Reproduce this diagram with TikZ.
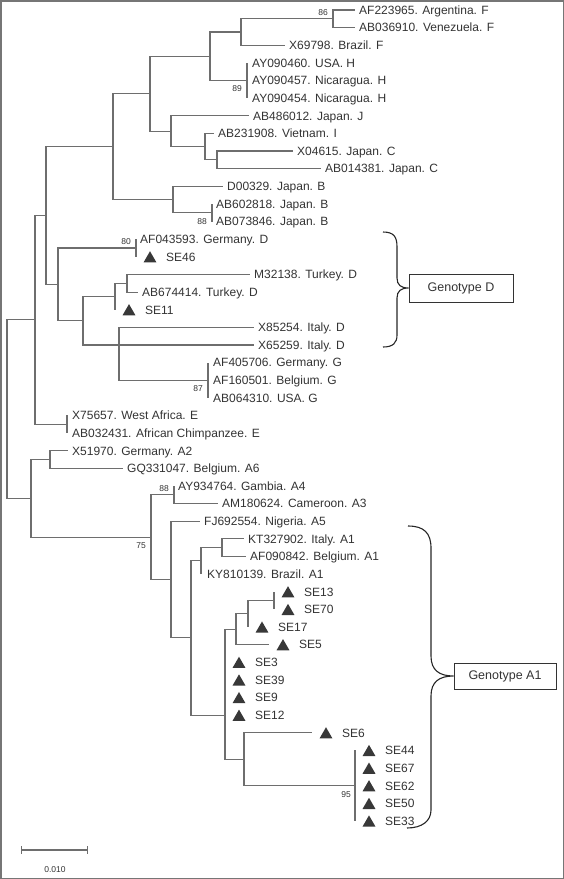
\documentclass[tikz,border=0pt]{standalone}
\usepackage{fontspec}
\setmainfont{Liberation Sans}
\usepackage{tikz}
\usetikzlibrary{positioning, shapes.geometric}
\usepackage{xcolor}

\definecolor{branchgray}{HTML}{6E6E6E}
\definecolor{labeltext}{HTML}{333333}
\definecolor{marker}{HTML}{383838}
\definecolor{framegray}{HTML}{767676}

\tikzset{
    branch/.style={draw=branchgray, line width=1.1pt},
    leaf/.style={text=labeltext, inner sep=0pt, text height=8.6pt, text depth=0pt,
        font=\fontsize{12}{14}\selectfont},
    boot/.style={text=labeltext, inner sep=0pt, text height=6.1pt, text depth=0pt,
        font=\fontsize{8.5}{10}\selectfont},
    tri/.style={regular polygon, regular polygon sides=3, fill=marker, draw=none,
        inner sep=0pt, minimum size=15pt, xshift=14pt, yshift=-1.9pt},
    genobox/.style={draw=labeltext, line width=0.9pt, text=labeltext, inner sep=0pt,
        font=\fontsize{12.5}{15}\selectfont},
    brace/.style={draw=black!85, line width=1.1pt}
}

\begin{document}
\begin{tikzpicture}[x=1pt, y=-1pt]
    \useasboundingbox (0,0) rectangle (564,879);
    \draw[draw=framegray, line width=1.5pt] (0.75,0.75) rectangle (563.25,878.25);

    \begin{scope}[x=1pt, y=-17.63pt, yshift=-10pt]
    % Add the branch points
        \coordinate (root) at (7,22.64);
        \coordinate (nY) at (35,17.58);
        \coordinate (nX) at (46,11.66);
        \coordinate (nFB) at (113,7.75);
        \coordinate (nFJ) at (150,4.75);
        \coordinate (nFH) at (210,2.625);
        \coordinate (nF) at (241,1.25);
        \coordinate (n1) at (333,0.5);
        \coordinate (nH) at (247,4);
        \coordinate (nJ) at (171,6.875);
        \coordinate (nIC) at (205,7.75);
        \coordinate (nC) at (217,8.5);
        \coordinate (nB) at (173,10.75);
        \coordinate (nB2) at (212,11.5);
        \coordinate (nDG) at (58,15.56);
        \coordinate (nD1) at (136,13.5);
        \coordinate (nD4) at (83,17.625);
        \coordinate (nD2) at (115,16.25);
        \coordinate (nT) at (127,15.5);
        \coordinate (nD3) at (119,19);
        \coordinate (nD3x) at (119,20);
        \coordinate (nG) at (208,21);
        \coordinate (nE) at (67,23.5);
        \coordinate (nA6) at (31,27.7);
        \coordinate (nA2) at (50,25.5);
        \coordinate (nA3) at (151,29.9);
        \coordinate (nA4) at (174,27.5);
        \coordinate (nA5) at (171,32.3);
        \coordinate (nA1c) at (191,35.6);
        \coordinate (nA1b) at (201,31.25);
        \coordinate (nA1a) at (222,30.5);
        \coordinate (nS4) at (225,40);
        \coordinate (nS3) at (236,35.125);
        \coordinate (nS2) at (248,34.25);
        \coordinate (nS1) at (274,33.5);
        \coordinate (nS6) at (244,42.5);
        \coordinate (nS7) at (355,44);

    % Add the tips
        \coordinate (t0) at (355,0);
        \coordinate (t1) at (355,1);
        \coordinate (t2) at (285,2);
        \coordinate (t3) at (247,3);
        \coordinate (t4) at (247,4);
        \coordinate (t5) at (247,5);
        \coordinate (t6) at (249,6);
        \coordinate (t7) at (214,7);
        \coordinate (t8) at (293,8);
        \coordinate (t9) at (321,9);
        \coordinate (t10) at (223,10);
        \coordinate (t11) at (212,11);
        \coordinate (t12) at (212,12);
        \coordinate (t13) at (136,13);
        \coordinate (t14) at (136,14);
        \coordinate (t15) at (250,15);
        \coordinate (t16) at (138,16);
        \coordinate (t17) at (115,17);
        \coordinate (t18) at (254,18);
        \coordinate (t19) at (254,19);
        \coordinate (t20) at (208,20);
        \coordinate (t21) at (208,21);
        \coordinate (t22) at (208,22);
        \coordinate (t23) at (67,23);
        \coordinate (t24) at (67,24);
        \coordinate (t25) at (68,25);
        \coordinate (t26) at (123,26);
        \coordinate (t27) at (174,27);
        \coordinate (t28) at (218,28);
        \coordinate (t29) at (200,29);
        \coordinate (t30) at (244,30);
        \coordinate (t31) at (246,31);
        \coordinate (t32) at (201,32);
        \coordinate (t33) at (274,33);
        \coordinate (t34) at (274,34);
        \coordinate (t35) at (248,35);
        \coordinate (t36) at (269,36);
        \coordinate (t37) at (225,37);
        \coordinate (t38) at (225,38);
        \coordinate (t39) at (225,39);
        \coordinate (t40) at (225,40);
        \coordinate (t41) at (312,41);
        \coordinate (t42) at (355,42);
        \coordinate (t43) at (355,43);
        \coordinate (t44) at (355,44);
        \coordinate (t45) at (355,45);
        \coordinate (t46) at (355,46);

    % Draw the branches
        \draw[branch]
            (root) |- (nY)    (root) |- (nA6)
            (nY) |- (nX)      (nY) |- (nE)
            (nX) |- (nFB)     (nX) |- (nDG)
            (nFB) |- (nFJ)    (nFB) |- (nB)
            (nFJ) |- (nFH)    (nFJ) |- (nJ)
            (nFH) |- (nF)     (nFH) |- (nH)
            (nF) |- (n1)      (nF) |- (t2)
            (n1) |- (t0)      (n1) |- (t1)
            (nH) |- (t3)      (nH) |- (t5)
            (nJ) |- (t6)      (nJ) |- (nIC)
            (nIC) |- (t7)     (nIC) |- (nC)
            (nC) |- (t8)      (nC) |- (t9)
            (nB) |- (t10)     (nB) |- (nB2)
            (nB2) |- (t11)    (nB2) |- (t12)
            (nDG) |- (nD1)    (nDG) |- (nD4)
            (nD1) |- (t13)    (nD1) |- (t14)
            (nD4) |- (nD2)    (nD4) |- (nD3)
            (nD2) |- (nT)     (nD2) |- (t17)
            (nT) |- (t15)     (nT) |- (t16)
            (nD3) |- (t18)    (nD3) |- (t19)    (nD3) |- (nG)
            (nG) |- (t20)     (nG) |- (t22)
            (nE) |- (t23)     (nE) |- (t24)
            (nA6) |- (nA2)    (nA6) |- (nA3)
            (nA2) |- (t25)    (nA2) |- (t26)
            (nA3) |- (nA4)    (nA3) |- (nA5)
            (nA4) |- (t27)    (nA4) |- (t28)
            (nA5) |- (t29)    (nA5) |- (nA1c)
            (nA1c) |- (nA1b)  (nA1c) |- (nS4)
            (nA1b) |- (nA1a)  (nA1b) |- (t32)
            (nA1a) |- (t30)   (nA1a) |- (t31)
            (nS4) |- (nS3)    (nS4) |- (t37)    (nS4) |- (nS6)
            (nS3) |- (nS2)    (nS3) |- (t36)
            (nS2) |- (nS1)    (nS2) |- (t35)
            (nS1) |- (t33)    (nS1) |- (t34)
            (nS6) |- (t41)    (nS6) |- (nS7)
            (nS7) |- (t42)    (nS7) |- (t46);
        \draw[branch, line width=2pt] (nD3) -- (nD3x);
        \draw[branch, line width=2pt] (t37) -- (t40);

    % Add the reference labels
        \node[leaf, right=4pt of t0] (l0) {AF223965. Argentina. F};
        \node[leaf, right=4pt of t1] (l1) {AB036910. Venezuela. F};
        \node[leaf, right=4pt of t2] (l2) {X69798. Brazil. F};
        \node[leaf, right=5pt of t3] (l3) {AY090460. USA. H};
        \node[leaf, right=5pt of t4] (l4) {AY090457. Nicaragua. H};
        \node[leaf, right=5pt of t5] (l5) {AY090454. Nicaragua. H};
        \node[leaf, right=4pt of t6] (l6) {AB486012. Japan. J};
        \node[leaf, right=4pt of t7] (l7) {AB231908. Vietnam. I};
        \node[leaf, right=4pt of t8] (l8) {X04615. Japan. C};
        \node[leaf, right=4pt of t9] (l9) {AB014381. Japan. C};
        \node[leaf, right=4pt of t10] (l10) {D00329. Japan. B};
        \node[leaf, right=4pt of t11] (l11) {AB602818. Japan. B};
        \node[leaf, right=4pt of t12] (l12) {AB073846. Japan. B};
        \node[leaf, right=4pt of t13] (l13) {AF043593. Germany. D};
        \node[leaf, right=4pt of t15] (l15) {M32138. Turkey. D};
        \node[leaf, right=4pt of t16] (l16) {AB674414. Turkey. D};
        \node[leaf, right=4pt of t18] (l18) {X85254. Italy. D};
        \node[leaf, right=4pt of t19] (l19) {X65259. Italy. D};
        \node[leaf, right=5pt of t20] (l20) {AF405706. Germany. G};
        \node[leaf, right=5pt of t21] (l21) {AF160501. Belgium. G};
        \node[leaf, right=5pt of t22] (l22) {AB064310. USA. G};
        \node[leaf, right=5pt of t23] (l23) {X75657. West Africa. E};
        \node[leaf, right=5pt of t24] (l24) {AB032431. African Chimpanzee. E};
        \node[leaf, right=4pt of t25] (l25) {X51970. Germany. A2};
        \node[leaf, right=4pt of t26] (l26) {GQ331047. Belgium. A6};
        \node[leaf, right=4pt of t27] (l27) {AY934764. Gambia. A4};
        \node[leaf, right=4pt of t28] (l28) {AM180624. Cameroon. A3};
        \node[leaf, right=4pt of t29] (l29) {FJ692554. Nigeria. A5};
        \node[leaf, right=4pt of t30] (l30) {KT327902. Italy. A1};
        \node[leaf, right=4pt of t31] (l31) {AF090842. Belgium. A1};
        \node[leaf, right=6pt of t32] (l32) {KY810139. Brazil. A1};

    % Add the SE samples
        \node[tri] (m14) at (t14) {};
        \node[leaf, right=30pt of t14] (l14) {SE46};
        \node[tri] (m17) at (t17) {};
        \node[leaf, right=30pt of t17] (l17) {SE11};
        \node[tri] (m33) at (t33) {};
        \node[leaf, right=30pt of t33] (l33) {SE13};
        \node[tri] (m34) at (t34) {};
        \node[leaf, right=30pt of t34] (l34) {SE70};
        \node[tri] (m35) at (t35) {};
        \node[leaf, right=30pt of t35] (l35) {SE17};
        \node[tri] (m36) at (t36) {};
        \node[leaf, right=30pt of t36] (l36) {SE5};
        \node[tri] (m37) at (t37) {};
        \node[leaf, right=30pt of t37] (l37) {SE3};
        \node[tri] (m38) at (t38) {};
        \node[leaf, right=30pt of t38] (l38) {SE39};
        \node[tri] (m39) at (t39) {};
        \node[leaf, right=30pt of t39] (l39) {SE9};
        \node[tri] (m40) at (t40) {};
        \node[leaf, right=30pt of t40] (l40) {SE12};
        \node[tri] (m41) at (t41) {};
        \node[leaf, right=30pt of t41] (l41) {SE6};
        \node[tri] (m42) at (t42) {};
        \node[leaf, right=30pt of t42] (l42) {SE44};
        \node[tri] (m43) at (t43) {};
        \node[leaf, right=30pt of t43] (l43) {SE67};
        \node[tri] (m44) at (t44) {};
        \node[leaf, right=30pt of t44] (l44) {SE62};
        \node[tri] (m45) at (t45) {};
        \node[leaf, right=30pt of t45] (l45) {SE50};
        \node[tri] (m46) at (t46) {};
        \node[leaf, right=30pt of t46] (l46) {SE33};

    % Bootstrap values
        \node[boot, above left=3pt and 5pt of n1] (b1) {86};
        \node[boot, below left=5pt and 5pt of nH] (b2) {89};
        \node[boot, below left=5pt and 5pt of nB2] (b3) {88};
        \node[boot, above left=3pt and 5pt of nD1] (b4) {80};
        \node[boot, below left=5pt and 5pt of nG] (b5) {87};
        \node[boot, above left=3pt and 5pt of nA4] (b6) {88};
        \node[boot, below left=5pt and 5pt of nA3] (b7) {75};
        \node[boot, below left=5pt and 4pt of nS7] (b8) {95};
    \end{scope}

    % Genotype groups
    \node[genobox, minimum width=104pt, minimum height=28pt] (gD) at (461,288) {Genotype D};
    \node[genobox, minimum width=102pt, minimum height=26pt] (gA) at (505,676) {Genotype A1};
    \coordinate (bD1) at (383,232);
    \coordinate (bD2) at (383,347);
    \coordinate (bA1) at (408,526);
    \coordinate (bA2) at (407,828);
    \draw[brace] (bD1) .. controls (394,232) and (397,237) .. (397,247)
        -- (397,278) .. controls (397,285) and (401,288) .. (gD.west)
        .. controls (401,288) and (397,291) .. (397,298)
        -- (397,335) .. controls (397,343) and (393,347) .. (bD2);
    \draw[brace] (bA1) .. controls (424,526) and (431,533) .. (431,548)
        -- (431,656) .. controls (431,670) and (439,676) .. (gA.west)
        .. controls (439,676) and (431,682) .. (431,696)
        -- (431,810) .. controls (431,821) and (422,828) .. (bA2);

    % Scale bar
    \coordinate (sb0) at (21,850);
    \coordinate (sb1) at (88,850);
    \draw[branch, |-|] (sb0) -- (sb1);
    \node[boot] (sblabel) at (55,869) {0.010};
\end{tikzpicture}
\end{document}
